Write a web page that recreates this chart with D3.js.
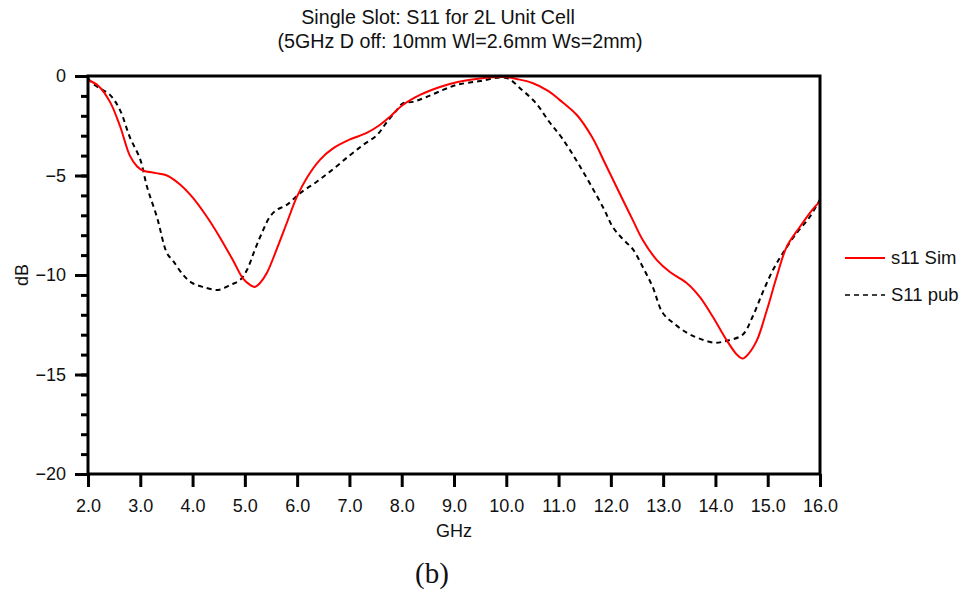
<!DOCTYPE html>
<html>
<head>
<meta charset="utf-8">
<script src="https://cdn.jsdelivr.net/npm/d3@7"></script>
<style>
  html, body { margin: 0; padding: 0; background: #fff; }
  svg { display: block; }
  text { font-family: "Liberation Sans", Arial, sans-serif; fill: #111; }
</style>
</head>
<body>
<svg id="chart" width="969" height="594"></svg>
<script>
// ---- data ----
const titleLines = ["Single Slot: S11 for 2L Unit Cell", "(5GHz D off: 10mm Wl=2.6mm Ws=2mm)"];
const seriesNames = ["s11 Sim", "S11 pub"];
const xTicks = [2,3,4,5,6,7,8,9,10,11,12,13,14,15,16];
const yMajorTicks = [0, -5, -10, -15, -20];
const yMinorTicks = d3.range(-20, 1, 1);

const freqSim = [2.0,2.2,2.42,2.61,2.8,2.94,3.05,3.3,3.51,3.76,4.0,4.28,4.52,4.77,4.97,5.1,5.19,5.29,5.42,5.61,5.8,5.99,6.19,6.44,6.68,7.0,7.33,7.58,7.77,8.02,8.35,8.73,9.07,9.5,9.97,10.2,10.5,10.8,11.02,11.35,11.64,11.9,12.23,12.42,12.61,12.88,13.13,13.45,13.7,13.95,14.22,14.41,14.52,14.62,14.79,14.98,15.17,15.36,15.61,15.86,16.0];
const s11Sim  = [-0.2,-0.5,-1.3,-2.5,-4.0,-4.55,-4.75,-4.88,-5.0,-5.45,-6.1,-7.1,-8.1,-9.25,-10.2,-10.5,-10.6,-10.4,-9.9,-8.7,-7.4,-6.1,-5.1,-4.2,-3.65,-3.2,-2.86,-2.46,-2.06,-1.46,-0.95,-0.55,-0.3,-0.12,-0.05,-0.15,-0.35,-0.75,-1.2,-1.96,-3.07,-4.45,-6.23,-7.24,-8.24,-9.25,-9.85,-10.4,-11.1,-12.1,-13.3,-14.0,-14.2,-14.0,-13.3,-11.8,-10.1,-8.6,-7.6,-6.7,-6.3];

const freqPub = [2.0,2.1,2.42,2.61,2.8,3.0,3.13,3.32,3.51,3.63,3.82,3.99,4.2,4.49,4.72,4.91,5.04,5.19,5.35,5.48,5.61,5.8,6.05,6.38,6.68,7.0,7.26,7.53,7.72,7.91,8.02,8.21,8.48,8.79,9.05,9.5,10.0,10.3,10.57,10.82,11.06,11.4,11.85,12.04,12.23,12.42,12.61,12.8,12.99,13.19,13.45,13.7,13.99,14.22,14.52,14.71,14.9,15.1,15.29,15.55,15.8,16.0];
const s11Pub  = [-0.1,-0.4,-0.95,-1.7,-3.07,-4.2,-5.58,-7.1,-8.9,-9.3,-10.0,-10.4,-10.6,-10.75,-10.5,-10.25,-9.75,-8.74,-7.74,-7.07,-6.73,-6.48,-5.9,-5.3,-4.7,-4.0,-3.47,-2.96,-2.3,-1.7,-1.37,-1.3,-1.05,-0.7,-0.45,-0.25,-0.1,-0.7,-1.37,-2.3,-3.1,-4.5,-6.6,-7.6,-8.2,-8.7,-9.6,-10.6,-11.9,-12.4,-12.9,-13.2,-13.4,-13.3,-13.0,-12.1,-10.9,-9.75,-8.9,-7.9,-7.1,-6.2];

// ---- layout ----
const L = 88, R = 820, T = 76, B = 474;
const svg = d3.select("#chart");
const x = d3.scaleLinear().domain([2, 16]).range([L, R]);
const y = d3.scaleLinear().domain([-20, 0]).range([B, T]);

// title
svg.append("text").attr("x", 438).attr("y", 24).attr("text-anchor", "middle")
  .style("font-size", "19.7px").text(titleLines[0]);
svg.append("text").attr("x", 460).attr("y", 48).attr("text-anchor", "middle")
  .style("font-size", "19.7px").text(titleLines[1]);

// curves
const line = d3.line().curve(d3.curveCatmullRom.alpha(0.5)).x(d => x(d[0])).y(d => y(d[1]));
svg.append("path").datum(d3.zip(freqPub, s11Pub)).attr("d", line)
  .attr("fill", "none").attr("stroke", "#000").attr("stroke-width", 2).attr("stroke-dasharray", "5,4");
svg.append("path").datum(d3.zip(freqSim, s11Sim)).attr("d", line)
  .attr("fill", "none").attr("stroke", "#ff0000").attr("stroke-width", 2);

// axes
const gx = svg.append("g").attr("transform", `translate(0,${B})`)
  .call(d3.axisBottom(x).tickValues(xTicks).tickFormat(d3.format(".1f")).tickSize(13).tickSizeOuter(0).tickPadding(12));
const gyMinor = svg.append("g").attr("transform", `translate(${L},0)`)
  .call(d3.axisLeft(y).tickValues(yMinorTicks).tickFormat("").tickSize(7).tickSizeOuter(0));
const gy = svg.append("g").attr("transform", `translate(${L},0)`)
  .call(d3.axisLeft(y).tickValues(yMajorTicks).tickFormat(d3.format("d")).tickSize(13).tickSizeOuter(0).tickPadding(9));
[gx, gy, gyMinor].forEach(g => {
  g.select(".domain").remove();
  g.selectAll(".tick line").attr("stroke", "#000").attr("stroke-width", 3);
  g.selectAll(".tick text").style("font-size", "18px").attr("fill", "#111")
    .style("font-family", '"Liberation Sans", Arial, sans-serif');
});

// frame
svg.append("rect").attr("x", L).attr("y", T).attr("width", R - L).attr("height", B - T)
  .attr("fill", "none").attr("stroke", "#000").attr("stroke-width", 3);

// axis labels
svg.append("text").attr("x", 454).attr("y", 537).attr("text-anchor", "middle")
  .style("font-size", "18px").text("GHz");
svg.append("text").attr("transform", "translate(28,275) rotate(-90)").attr("text-anchor", "middle")
  .style("font-size", "18px").text("dB");

// legend
const lg = svg.append("g");
lg.append("line").attr("x1", x(16) + 25).attr("x2", x(16) + 65).attr("y1", 258).attr("y2", 258)
  .attr("stroke", "#ff0000").attr("stroke-width", 2);
lg.append("text").attr("x", x(16) + 71).attr("y", 264).style("font-size", "18.5px").text(seriesNames[0]);
lg.append("line").attr("x1", x(16) + 25).attr("x2", x(16) + 65).attr("y1", 295).attr("y2", 295)
  .attr("stroke", "#000").attr("stroke-width", 1.5).attr("stroke-dasharray", "5,4");
lg.append("text").attr("x", x(16) + 71).attr("y", 301).style("font-size", "18.5px").text(seriesNames[1]);

// caption
svg.append("text").attr("x", 432).attr("y", 583).attr("text-anchor", "middle")
  .style("font-family", '"Liberation Serif", "DejaVu Serif", serif').style("font-size", "29px").text("(b)");
</script>
</body>
</html>
